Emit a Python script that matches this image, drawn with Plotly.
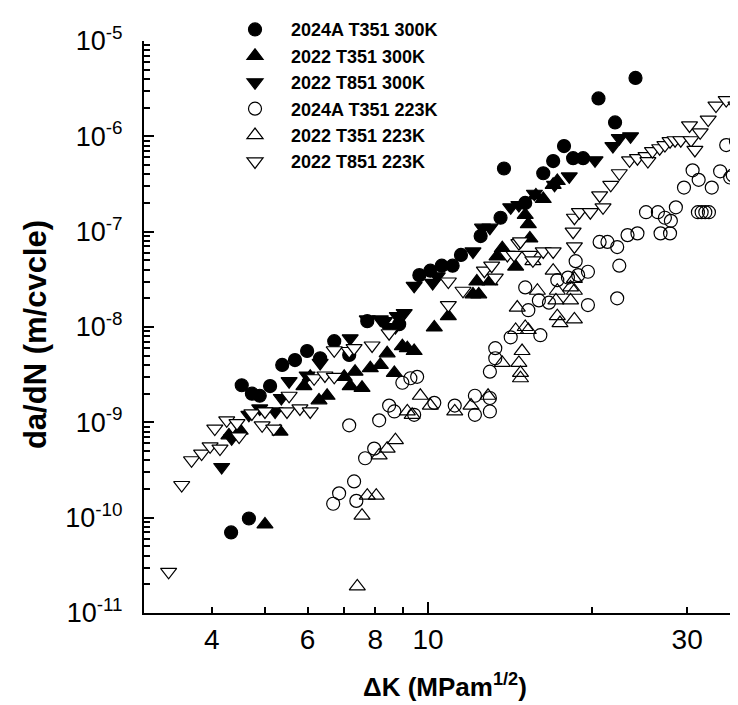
import math
import plotly.graph_objects as go

# ---------------- data ----------------
series_names = ["2024A T351 300K", "2022 T351 300K", "2022 T851 300K",
                "2024A T351 223K", "2022 T351 223K", "2022 T851 223K"]

# 2024A T351 300K (filled circles)
a300_dk = [4.34, 4.68, 4.54, 4.74, 4.90, 5.12, 5.39, 5.69, 5.99, 6.33, 6.72, 7.16, 7.73, 8.85,
           9.64, 10.1, 10.6, 11.1, 11.5, 12.5, 13.6, 13.8, 15.1, 16.3, 17.0, 17.8, 18.5, 19.3,
           20.6, 22.1, 24.1]
a300_da = [7.0e-11, 9.8e-11, 2.45e-9, 2.0e-9, 1.9e-9, 2.4e-9, 4.0e-9, 4.5e-9, 5.6e-9, 4.7e-9,
           7.1e-9, 5.1e-9, 1.15e-8, 1.07e-8, 3.5e-8, 3.9e-8, 4.4e-8, 4.4e-8, 5.7e-8, 9.0e-8,
           1.4e-7, 4.6e-7, 2.0e-7, 4.1e-7, 5.5e-7, 7.9e-7, 5.9e-7, 5.9e-7, 2.5e-6, 1.4e-6, 4.1e-6]

# 2022 T351 300K (filled up-triangles)
t351_300_dk = [5.01, 4.30, 4.51, 5.34, 5.91, 6.07, 6.30, 6.52, 7.01, 7.19, 7.34, 7.56, 7.83,
               8.17, 8.41, 8.67, 8.97, 9.16, 9.43, 10.27, 10.9, 12.1, 12.4, 12.3, 13.0, 13.4,
               13.7, 14.5, 15.1, 15.3, 15.4, 15.8, 16.3, 17.0, 17.3]
t351_300_da = [8.5e-11, 7.3e-10, 8.2e-10, 8.0e-10, 2.4e-9, 3.0e-9, 1.7e-9, 1.9e-9, 3.0e-9,
               2.4e-9, 3.4e-9, 2.3e-9, 3.7e-9, 4.0e-9, 5.3e-9, 3.3e-9, 6.3e-9, 6.0e-9, 5.6e-9,
               9.9e-9, 1.3e-8, 2.2e-8, 2.2e-8, 3.0e-8, 3.0e-8, 5.5e-8, 6.7e-8, 4.3e-8, 1.5e-7,
               1.2e-7, 8.5e-8, 2.4e-7, 2.2e-7, 3.1e-7, 3.4e-7]

# 2022 T851 300K (filled down-triangles)
t851_300_dk = [4.17, 4.35, 4.68, 4.90, 5.23, 5.37, 5.55, 5.99, 6.33, 7.19, 7.73, 8.17, 8.31,
               8.41, 8.71, 8.78, 9.04, 9.43, 10.2, 10.4, 12.1, 12.6, 13.0, 14.2, 14.7, 15.7,
               17.1, 18.2, 20.3, 21.9, 22.5, 23.6]
t851_300_da = [3.4e-10, 6.8e-10, 1.2e-9, 1.4e-9, 1.3e-9, 1.8e-9, 2.7e-9, 3.1e-9, 4.2e-9, 7.6e-9,
               1.2e-8, 1.2e-8, 1.15e-8, 1.0e-8, 1.0e-8, 1.3e-8, 1.4e-8, 2.7e-8, 2.9e-8, 3.4e-8,
               6.2e-8, 1.1e-7, 1.1e-7, 1.8e-7, 1.9e-7, 2.5e-7, 3.1e-7, 3.8e-7, 5.6e-7, 7.9e-7,
               9.6e-7, 1.0e-6]

# 2024A T351 223K (open circles)
a223_dk = [7.16, 6.69, 6.86, 7.31, 7.38, 7.66, 7.96, 8.13, 8.48, 8.67, 8.97, 9.43, 10.27, 9.28,
           9.55, 11.2, 12.2, 12.2, 13.0, 13.0, 13.3, 13.3, 13.0, 14.2, 15.3, 16.1, 16.0, 16.7,
           15.1, 19.7, 22.3, 22.5, 22.3, 18.7, 18.9, 19.7, 18.1, 17.3, 20.7, 21.4, 23.3, 24.3,
           25.2, 26.5, 27.3, 28.0, 28.6, 26.8, 27.9, 31.4, 31.9, 32.4, 32.9, 29.6, 30.7, 31.5,
           33.3, 34.5, 36.0, 36.4, 35.4, 36.9, 37.5, 38.2, 39.0]
a223_da = [9.3e-10, 1.4e-10, 1.8e-10, 2.4e-10, 1.5e-10, 4.2e-10, 5.3e-10, 1.05e-9, 1.5e-9, 1.3e-9,
           2.6e-9, 1.2e-9, 1.6e-9, 2.9e-9, 3.0e-9, 1.5e-9, 1.9e-9, 1.2e-9, 1.8e-9, 1.3e-9, 6.0e-9,
           4.7e-9, 3.4e-9, 7.8e-9, 1.5e-8, 8.2e-9, 1.9e-8, 1.8e-8, 2.6e-8, 1.7e-8, 2.0e-8, 4.4e-8,
           6.9e-8, 4.9e-8, 3.5e-8, 3.8e-8, 3.3e-8, 3.1e-8, 7.8e-8, 7.8e-8, 9.2e-8, 9.6e-8, 1.6e-7,
           1.6e-7, 1.4e-7, 1.3e-7, 1.8e-7, 9.6e-8, 9.6e-8, 1.6e-7, 1.6e-7, 1.6e-7, 1.6e-7, 2.9e-7,
           4.4e-7, 3.5e-7, 2.9e-7, 4.3e-7, 3.7e-7, 3.9e-7, 8.1e-7, 8.9e-7, 8.5e-7, 7.7e-7, 1.3e-6]

# 2022 T351 223K (open up-triangles)
t351_223_dk = [7.41, 7.56, 7.73, 8.03, 8.13, 8.41, 8.71, 9.16, 9.68, 10.1, 9.35, 11.2, 12.0,
               12.9, 13.7, 14.9, 14.7, 14.8, 14.8, 14.5, 15.3, 14.6, 17.3, 17.5, 18.6, 17.2,
               18.3, 15.9, 18.6, 15.1, 18.3, 18.6, 17.3, 15.6, 17.0]
t351_223_da = [1.9e-11, 1.05e-10, 1.7e-10, 1.7e-10, 4.5e-10, 5.3e-10, 6.5e-10, 1.3e-9, 1.9e-9,
               1.5e-9, 1.2e-9, 1.3e-9, 1.5e-9, 1.9e-9, 4.2e-9, 5.6e-9, 4.2e-9, 3.3e-9, 2.9e-9,
               9.3e-9, 9.3e-9, 1.6e-8, 1.3e-8, 1.1e-8, 1.2e-8, 1.9e-8, 1.9e-8, 2.4e-8, 2.4e-8,
               1.0e-8, 2.6e-8, 3.2e-8, 2.4e-8, 4.9e-8, 3.9e-8]

# 2022 T851 223K (open down-triangles)
t851_223_dk = [3.33, 3.52, 3.67, 3.83, 3.97, 4.14, 4.05, 4.26, 4.45, 4.49, 4.74, 4.95, 5.01,
               5.20, 5.50, 5.81, 6.07, 5.55, 6.17, 6.46, 6.72, 6.72, 7.16, 7.31, 7.89, 8.48,
               10.9, 11.6, 10.9, 12.7, 13.1, 13.3, 14.0, 14.4, 14.7, 14.8, 15.4, 15.6, 16.3,
               17.0, 18.6, 18.5, 18.6, 19.0, 19.9, 21.0, 20.7, 21.7, 22.5, 23.5, 24.3, 25.2,
               25.4, 25.9, 26.7, 27.3, 27.9, 28.5, 29.2, 30.5, 31.0, 30.3, 31.7, 32.8, 33.9,
               35.4, 36.9, 38.0]
t851_223_da = [2.7e-11, 2.2e-10, 4.0e-10, 4.7e-10, 5.6e-10, 5.3e-10, 8.6e-10, 1.05e-9, 9.8e-10,
               7.1e-10, 1.24e-9, 9.3e-10, 1.3e-9, 8.6e-10, 1.3e-9, 1.4e-9, 1.3e-9, 1.9e-9, 2.9e-9,
               3.1e-9, 3.0e-9, 5.7e-9, 5.6e-9, 6.0e-9, 6.4e-9, 8.6e-9, 3.0e-8, 2.4e-8, 1.7e-8,
               3.9e-8, 4.4e-8, 3.3e-8, 5.7e-8, 5.7e-8, 7.6e-8, 7.9e-8, 5.7e-8, 5.0e-8, 6.2e-8,
               6.2e-8, 7.0e-8, 1.0e-7, 1.4e-7, 1.6e-7, 1.6e-7, 1.8e-7, 2.4e-7, 3.1e-7, 4.1e-7,
               5.6e-7, 5.9e-7, 6.2e-7, 5.5e-7, 7.0e-7, 7.5e-7, 8.1e-7, 8.9e-7, 9.1e-7, 9.1e-7,
               9.1e-7, 7.2e-7, 1.3e-6, 1.1e-6, 1.5e-6, 2.1e-6, 2.4e-6, 2.1e-6, 2.8e-6]

# axis ticks
x_tick_vals = [4, 6, 8, 10, 30]
x_tick_text = ["4", "6", "8", "10", "30"]
x_minor_vals = [5, 7, 9, 20]
x_long_tick = [10]
y_tick_vals = [1e-11, 1e-10, 1e-9, 1e-8, 1e-7, 1e-6, 1e-5]
y_tick_text = ["10<sup>-11</sup>", "10<sup>-10</sup>", "10<sup>-9</sup>", "10<sup>-8</sup>",
               "10<sup>-7</sup>", "10<sup>-6</sup>", "10<sup>-5</sup>"]
y_minor_vals = [m * 10.0 ** e for e in range(-11, -5) for m in range(2, 10)]

x_range = [math.log10(3.0), math.log10(38.5)]
y_range = [-11, -5]

FONT = "Liberation Sans, Arial, sans-serif"

fig = go.Figure()


def add(name, x, y, symbol, fill, rank, size):
    fig.add_trace(go.Scatter(
        x=x, y=y, mode="markers", name="<b>" + name + "</b>", legendrank=rank,
        marker=dict(symbol=symbol, size=size, color=fill,
                    line=dict(color="black", width=1.2)),
    ))


# drawing order (legend order via legendrank)
add(series_names[3], a223_dk, a223_da, "circle-open", "black", 4, 13)
add(series_names[4], t351_223_dk, t351_223_da, "triangle-up-open", "black", 5, 14)
add(series_names[0], a300_dk, a300_da, "circle", "black", 1, 13)
add(series_names[1], t351_300_dk, t351_300_da, "triangle-up", "black", 2, 14)
add(series_names[2], t851_300_dk, t851_300_da, "triangle-down", "black", 3, 14)
add(series_names[5], t851_223_dk, t851_223_da, "triangle-down", "white", 6, 14)

# helper (empty) trace for the overlay x axis carrying the long tick at 10
fig.add_trace(go.Scatter(x=[], y=[], xaxis="x2", yaxis="y", showlegend=False, hoverinfo="skip"))

fig.update_layout(
    width=738, height=705,
    margin=dict(l=136, r=0, t=33, b=100, pad=0),
    paper_bgcolor="white", plot_bgcolor="white",
    font=dict(family=FONT, color="black"),
    showlegend=True,
    legend=dict(x=0.1246, y=1.052, xanchor="left", yanchor="top",
                bgcolor="rgba(0,0,0,0)", borderwidth=0,
                font=dict(size=18, family=FONT, color="black"),
                itemwidth=62, tracegroupgap=0, itemsizing="trace"),
    xaxis=dict(
        type="log", range=x_range, showline=True, linecolor="black", linewidth=2,
        showgrid=False, zeroline=False, mirror=False,
        tickmode="array", tickvals=x_tick_vals, ticktext=x_tick_text,
        ticks="inside", ticklen=6, tickwidth=1.5, tickcolor="black",
        tickfont=dict(size=28, family=FONT, color="black"), ticklabelstandoff=0,
        minor=dict(tickmode="array", tickvals=x_minor_vals, ticks="inside", ticklen=6,
                   tickwidth=1.5, tickcolor="black", showgrid=False),
    ),
    xaxis2=dict(
        type="log", range=x_range, overlaying="x", anchor="y", side="bottom",
        showline=False, showgrid=False, zeroline=False, showticklabels=False,
        tickmode="array", tickvals=x_long_tick, ticks="inside", ticklen=11,
        tickwidth=1.5, tickcolor="black",
    ),
    yaxis=dict(
        type="log", range=y_range, showline=True, linecolor="black", linewidth=2,
        showgrid=False, zeroline=False,
        tickmode="array", tickvals=y_tick_vals, ticktext=y_tick_text,
        ticks="inside", ticklen=10, tickwidth=1.5, tickcolor="black",
        tickfont=dict(size=27, family=FONT, color="black"), ticklabelstandoff=14,
        minor=dict(tickmode="array", tickvals=y_minor_vals, ticks="inside", ticklen=6,
                   tickwidth=1.5, tickcolor="black", showgrid=False),
    ),
    annotations=[
        dict(text="<b>ΔK (MPam<sup>1/2</sup>)</b>", xref="paper", yref="paper",
             x=0.5, y=-0.1269, xanchor="center", yanchor="middle", showarrow=False,
             font=dict(size=26, family=FONT, color="black")),
        dict(text="<b>da/dN (m/cvcle)</b>", xref="paper", yref="paper",
             x=-0.18, y=0.487, xanchor="center", yanchor="middle", showarrow=False,
             textangle=-90, font=dict(size=31, family=FONT, color="black")),
    ],
)

fig.write_html("out.html")
